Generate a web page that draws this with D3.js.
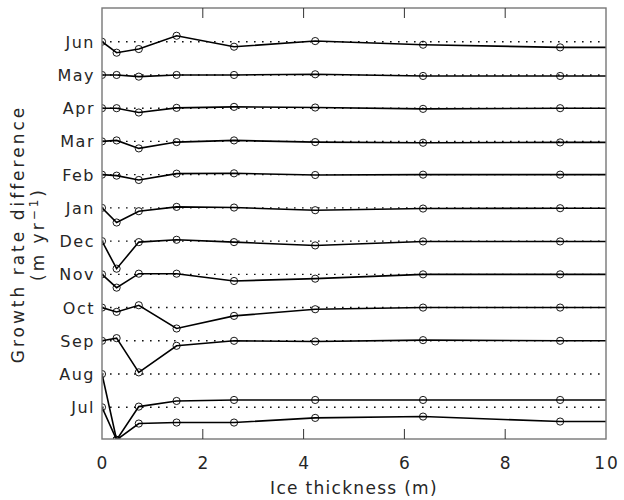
<!DOCTYPE html>
<html>
<head>
<meta charset="utf-8">
<script src="https://cdn.jsdelivr.net/npm/d3@7"></script>
<style>
  body { margin: 0; background: #fff; }
  text { font-family: "DejaVu Sans", sans-serif; fill: #262626; }
</style>
</head>
<body>
<div class="graphic"></div>
<script>
// ice thickness of each model category (m); the last one lies past the frame
var thickness = [0, 0.29, 0.73, 1.48, 2.62, 4.23, 6.37, 9.09, 12.4];

// months from bottom to top, each curve is drawn about its own dotted zero line
var months = ["Jul", "Aug", "Sep", "Oct", "Nov", "Dec", "Jan", "Feb", "Mar", "Apr", "May", "Jun"];

// growth rate difference (m/yr) per month
var jul = [0, -0.98, 0.02, 0.19, 0.22, 0.22, 0.22, 0.22, 0.22];
var aug = [0, -1.98, -1.49, -1.46, -1.46, -1.32, -1.28, -1.43, -1.43];
var sep = [0, 0.08, -0.95, -0.15, 0, -0.02, 0.02, 0, 0];
var oct = [0, -0.13, 0.07, -0.63, -0.25, -0.05, 0, 0, 0];
var nov = [0, -0.4, 0.02, 0.02, -0.2, -0.13, 0, 0, 0];
var dec = [0, -0.83, -0.03, 0.04, -0.03, -0.13, -0.01, -0.01, -0.01];
var jan = [0, -0.44, -0.1, 0.03, 0.01, -0.07, -0.02, -0.01, -0.01];
var feb = [0, -0.03, -0.16, 0.03, 0.04, -0.01, 0, 0, 0];
var mar = [0, 0.03, -0.21, -0.02, 0.03, -0.02, -0.04, -0.03, -0.03];
var apr = [0, 0, -0.13, 0.01, 0.04, 0.02, -0.02, 0, 0];
var may = [0, 0, -0.05, 0, 0, 0.02, -0.03, -0.03, -0.03];
var jun = [0, -0.33, -0.22, 0.18, -0.15, 0.02, -0.09, -0.17, -0.17];

var series = [jul, aug, sep, oct, nov, dec, jan, feb, mar, apr, may, jun];

var xTicks = [0, 2, 4, 6, 8, 10];

// set the dimensions and margins of the graph
var margin = {top: 8, right: 18, bottom: 61, left: 102},
    width = 624 - margin.left - margin.right,
    height = 500 - margin.top - margin.bottom;

var x = d3.scaleLinear().domain([0, 10]).range([0, width]);
// one unit of offset per month
var y = d3.scaleLinear().domain([-0.955, 12.015]).range([height, 0]);

var svg = d3.select(".graphic").append("svg")
    .attr("width", 624)
    .attr("height", 500);

var g = svg.append("g")
    .attr("transform", "translate(" + margin.left + "," + margin.top + ")");

g.append("clipPath").attr("id", "plotclip")
  .append("rect")
    .attr("width", width)
    .attr("height", height);

var plot = g.append("g").attr("clip-path", "url(#plotclip)");

// dotted zero lines
plot.selectAll(".zero")
    .data(months)
    .enter().append("line")
    .attr("class", "zero")
    .attr("x1", 0)
    .attr("x2", width)
    .attr("y1", function(d, i) { return y(i); })
    .attr("y2", function(d, i) { return y(i); })
    .attr("stroke", "#111")
    .attr("stroke-width", 1.4)
    .attr("stroke-dasharray", "1.6,6.4");

var line = d3.line()
    .x(function(d) { return x(d.t); })
    .y(function(d) { return y(d.v); });

var curves = series.map(function(s, i) {
  return s.map(function(v, j) { return {t: thickness[j], v: v + i}; });
});

plot.selectAll(".curve")
    .data(curves)
    .enter().append("path")
    .attr("class", "curve")
    .attr("d", line)
    .attr("fill", "none")
    .attr("stroke", "#000")
    .attr("stroke-width", 1.6);

plot.selectAll(".pts")
    .data(curves)
    .enter().append("g")
    .attr("class", "pts")
    .selectAll("circle")
    .data(function(d) { return d; })
    .enter().append("circle")
    .attr("cx", function(d) { return x(d.t); })
    .attr("cy", function(d) { return y(d.v); })
    .attr("r", 3.6)
    .attr("fill", "none")
    .attr("stroke", "#000")
    .attr("stroke-width", 0.9);

// frame
g.append("rect")
    .attr("width", width)
    .attr("height", height)
    .attr("fill", "none")
    .attr("stroke", "#777")
    .attr("stroke-width", 1.4);

// ticks on bottom and top
var inner = xTicks.slice(1, -1);
g.selectAll(".tickb")
    .data(inner)
    .enter().append("line")
    .attr("x1", function(d) { return x(d); })
    .attr("x2", function(d) { return x(d); })
    .attr("y1", height)
    .attr("y2", height - 10)
    .attr("stroke", "#333");
g.selectAll(".tickt")
    .data(inner)
    .enter().append("line")
    .attr("x1", function(d) { return x(d); })
    .attr("x2", function(d) { return x(d); })
    .attr("y1", 0)
    .attr("y2", 10)
    .attr("stroke", "#333");

g.selectAll(".xlab")
    .data(xTicks)
    .enter().append("text")
    .attr("x", function(d) { return x(d) + 1; })
    .attr("y", height + 30)
    .attr("text-anchor", "middle")
    .style("font-size", "17px")
    .style("letter-spacing", "2px")
    .text(function(d) { return d; });

g.selectAll(".mlab")
    .data(months)
    .enter().append("text")
    .attr("x", -7)
    .attr("y", function(d, i) { return y(i) + 6; })
    .attr("text-anchor", "end")
    .style("font-size", "16px")
    .style("letter-spacing", "1.5px")
    .text(function(d) { return d; });

g.append("text")
    .attr("x", width / 2)
    .attr("y", height + 55)
    .attr("text-anchor", "middle")
    .style("font-size", "17px")
    .style("letter-spacing", "1.3px")
    .text("Ice thickness (m)");

// y label, two lines
var ylab = svg.append("text")
    .attr("transform", "translate(24,234) rotate(-90)")
    .attr("text-anchor", "middle")
    .style("font-size", "17px")
    .style("letter-spacing", "3px");
ylab.append("tspan").attr("x", 0).attr("y", 0).text("Growth rate difference");
var l2 = ylab.append("tspan").attr("x", 0).attr("y", 20);
l2.append("tspan").text("(m yr");
l2.append("tspan").attr("dy", -6).style("font-size", "12px").text("\u22121");
l2.append("tspan").attr("dy", 6).text(")");
</script>
</body>
</html>
